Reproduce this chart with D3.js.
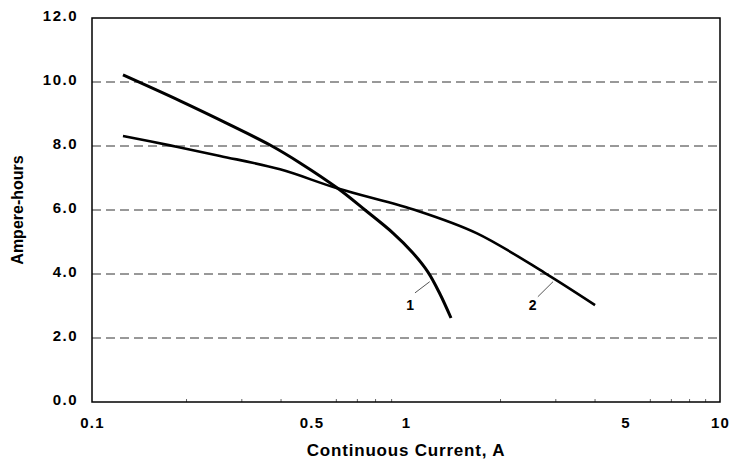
<!DOCTYPE html>
<html><head><meta charset="utf-8">
<script src="https://cdn.jsdelivr.net/npm/d3@7"></script>
<style>
html,body{margin:0;padding:0;background:#fff;}
svg{display:block;}
text{font-family:"Liberation Sans",Arial,Helvetica,sans-serif;font-weight:bold;fill:#000;}
</style></head>
<body>
<svg id="chart" width="733" height="463"></svg>
<script>
// ---- data ----
const curve1Current = [0.1255, 0.1907, 0.2751, 0.369, 0.4597, 0.6074, 0.7405, 0.9092, 1.045, 1.175, 1.283, 1.391];
const curve1AmpHours = [10.22, 9.41, 8.66, 8.03, 7.47, 6.67, 6.0, 5.28, 4.69, 4.06, 3.375, 2.625];
const curve2Current = [0.1255, 0.1772, 0.2557, 0.397, 0.6074, 1.092, 1.683, 2.771, 4.0];
const curve2AmpHours = [8.31, 8.02, 7.69, 7.27, 6.67, 5.97, 5.27, 4.03, 3.03];
const curveLabels = ["1", "2"];
const labelCurrent = [1.03, 2.53];
const labelAmpHours = [2.88, 2.88];
const leaderFromCurrent = [1.068, 2.63];
const leaderFromAmpHours = [3.41, 3.29];
const leaderToCurrent = [1.19, 2.94];
const leaderToAmpHours = [3.76, 3.76];
const xTickValues = [0.1, 0.5, 1, 5, 10];
const xTickLabels = ["0.1", "0.5", "1", "5", "10"];
const yTickValues = [0, 2, 4, 6, 8, 10, 12];
const yTickLabels = ["0.0", "2.0", "4.0", "6.0", "8.0", "10.0", "12.0"];
const xMinorTicks = [0.2,0.3,0.4,0.6,0.7,0.8,0.9,2,3,4,6,7,8,9];
const xTitle = "Continuous Current, A";
const yTitle = "Ampere-hours";

// ---- layout ----
const svg = d3.select("#chart");
const L = 92, R = 720, T = 18, B = 402;
const x = d3.scaleLog().domain([0.1, 10]).range([L, R]);
const y = d3.scaleLinear().domain([0, 12]).range([B, T]);

// gridlines
svg.append("g").selectAll("line").data(yTickValues.filter(v => v > 0 && v < 12)).join("line")
  .attr("x1", L).attr("x2", R).attr("y1", d => y(d)).attr("y2", d => y(d))
  .attr("stroke", "#333").attr("stroke-width", 1).attr("stroke-dasharray", "9,5");

// minor ticks bottom
svg.append("g").selectAll("line").data(xMinorTicks).join("line")
  .attr("x1", d => x(d)).attr("x2", d => x(d)).attr("y1", B).attr("y2", B - 3)
  .attr("stroke", "#666").attr("stroke-width", 1);

// axes (labels only, ticks hidden)
const xAxis = d3.axisBottom(x).tickValues(xTickValues).tickFormat((d, i) => xTickLabels[i]).tickSize(0).tickPadding(0);
const gx = svg.append("g").attr("transform", `translate(0,${B})`).call(xAxis);
gx.select(".domain").remove();
gx.selectAll("text").attr("y", 26).attr("dy", 0)
  .style("font-size", "15px").style("letter-spacing", "1.2px").attr("fill", "#000")
  .attr("font-family", null);

const yAxis = d3.axisLeft(y).tickValues(yTickValues).tickFormat((d, i) => yTickLabels[i]).tickSize(0).tickPadding(0);
const gy = svg.append("g").attr("transform", `translate(${L},0)`).call(yAxis);
gy.select(".domain").remove();
gy.selectAll("text").attr("x", -14).attr("dy", "2.5")
  .style("font-size", "15px").style("letter-spacing", "1.5px").attr("fill", "#000")
  .attr("font-family", null);

// frame
svg.append("rect").attr("x", L).attr("y", T).attr("width", R - L).attr("height", B - T)
  .attr("fill", "none").attr("stroke", "#000").attr("stroke-width", 1.5);

// curves
const line = d3.line().x(d => x(d[0])).y(d => y(d[1])).curve(d3.curveCatmullRom.alpha(0.5));
const c1 = curve1Current.map((c, i) => [c, curve1AmpHours[i]]);
const c2 = curve2Current.map((c, i) => [c, curve2AmpHours[i]]);
svg.append("path").attr("d", line(c2)).attr("fill", "none").attr("stroke", "#000").attr("stroke-width", 2.6);
svg.append("path").attr("d", line(c1)).attr("fill", "none").attr("stroke", "#000").attr("stroke-width", 3);

// leaders and labels
curveLabels.forEach((lab, i) => {
  svg.append("line")
    .attr("x1", x(leaderFromCurrent[i])).attr("y1", y(leaderFromAmpHours[i]))
    .attr("x2", x(leaderToCurrent[i])).attr("y2", y(leaderToAmpHours[i]))
    .attr("stroke", "#555").attr("stroke-width", 1);
  svg.append("text").attr("x", x(labelCurrent[i])).attr("y", y(labelAmpHours[i]))
    .attr("text-anchor", "middle").style("font-size", "14px").text(lab);
});

// titles
svg.append("text").attr("x", 406).attr("y", 456).attr("text-anchor", "middle")
  .style("font-size", "17px").style("letter-spacing", "0.8px").text(xTitle);
svg.append("text").attr("transform", "translate(23,210) rotate(-90)").attr("text-anchor", "middle")
  .style("font-size", "16px").text(yTitle);
</script>
</body></html>
